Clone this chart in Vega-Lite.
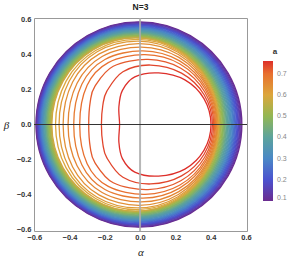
{
"$schema":"https://vega.github.io/schema/vega-lite/v6.json",
"autosize":"none",
"width":213,"height":213,
"padding":{"left":34,"top":18,"right":43,"bottom":31},
"config":{"view":{"stroke":"#999","strokeWidth":1},"font":"Liberation Sans"},
"title":{"text":"N=3","fontSize":8.5,"fontWeight":"bold","color":"#222","offset":4,"anchor":"middle","frame":"group","font":"Liberation Sans"},
"datasets":{
"c":[
{"a":0.1,"k":0,"x":0.577,"y":0},{"a":0.1,"k":30,"x":0.499,"y":0.294},{"a":0.1,"k":60,"x":0.285,"y":0.508},{"a":0.1,"k":90,"x":-0.007,"y":0.587},{"a":0.1,"k":120,"x":-0.298,"y":0.508},{"a":0.1,"k":150,"x":-0.512,"y":0.294},{"a":0.1,"k":180,"x":-0.59,"y":0},{"a":0.1,"k":210,"x":-0.512,"y":-0.294},{"a":0.1,"k":240,"x":-0.298,"y":-0.508},{"a":0.1,"k":270,"x":-0.007,"y":-0.587},{"a":0.1,"k":300,"x":0.285,"y":-0.508},{"a":0.1,"k":330,"x":0.499,"y":-0.294},
{"a":0.116,"k":0,"x":0.573,"y":0},{"a":0.116,"k":30,"x":0.495,"y":0.292},{"a":0.116,"k":60,"x":0.282,"y":0.506},{"a":0.116,"k":90,"x":-0.008,"y":0.584},{"a":0.116,"k":120,"x":-0.298,"y":0.506},{"a":0.116,"k":150,"x":-0.51,"y":0.292},{"a":0.116,"k":180,"x":-0.588,"y":0},{"a":0.116,"k":210,"x":-0.51,"y":-0.292},{"a":0.116,"k":240,"x":-0.298,"y":-0.506},{"a":0.116,"k":270,"x":-0.008,"y":-0.584},{"a":0.116,"k":300,"x":0.282,"y":-0.506},{"a":0.116,"k":330,"x":0.495,"y":-0.292},
{"a":0.132,"k":0,"x":0.568,"y":0},{"a":0.132,"k":30,"x":0.491,"y":0.29},{"a":0.132,"k":60,"x":0.28,"y":0.503},{"a":0.132,"k":90,"x":-0.009,"y":0.581},{"a":0.132,"k":120,"x":-0.297,"y":0.503},{"a":0.132,"k":150,"x":-0.508,"y":0.29},{"a":0.132,"k":180,"x":-0.585,"y":0},{"a":0.132,"k":210,"x":-0.508,"y":-0.29},{"a":0.132,"k":240,"x":-0.297,"y":-0.503},{"a":0.132,"k":270,"x":-0.009,"y":-0.581},{"a":0.132,"k":300,"x":0.28,"y":-0.503},{"a":0.132,"k":330,"x":0.491,"y":-0.29},
{"a":0.148,"k":0,"x":0.564,"y":0},{"a":0.148,"k":30,"x":0.487,"y":0.289},{"a":0.148,"k":60,"x":0.277,"y":0.5},{"a":0.148,"k":90,"x":-0.01,"y":0.577},{"a":0.148,"k":120,"x":-0.296,"y":0.5},{"a":0.148,"k":150,"x":-0.506,"y":0.289},{"a":0.148,"k":180,"x":-0.583,"y":0},{"a":0.148,"k":210,"x":-0.506,"y":-0.289},{"a":0.148,"k":240,"x":-0.296,"y":-0.5},{"a":0.148,"k":270,"x":-0.01,"y":-0.577},{"a":0.148,"k":300,"x":0.277,"y":-0.5},{"a":0.148,"k":330,"x":0.487,"y":-0.289},
{"a":0.164,"k":0,"x":0.559,"y":0},{"a":0.164,"k":30,"x":0.483,"y":0.287},{"a":0.164,"k":60,"x":0.274,"y":0.497},{"a":0.164,"k":90,"x":-0.01,"y":0.574},{"a":0.164,"k":120,"x":-0.295,"y":0.497},{"a":0.164,"k":150,"x":-0.504,"y":0.287},{"a":0.164,"k":180,"x":-0.58,"y":0},{"a":0.164,"k":210,"x":-0.504,"y":-0.287},{"a":0.164,"k":240,"x":-0.295,"y":-0.497},{"a":0.164,"k":270,"x":-0.01,"y":-0.574},{"a":0.164,"k":300,"x":0.274,"y":-0.497},{"a":0.164,"k":330,"x":0.483,"y":-0.287},
{"a":0.18,"k":0,"x":0.555,"y":0},{"a":0.18,"k":30,"x":0.479,"y":0.286},{"a":0.18,"k":60,"x":0.272,"y":0.494},{"a":0.18,"k":90,"x":-0.011,"y":0.571},{"a":0.18,"k":120,"x":-0.294,"y":0.494},{"a":0.18,"k":150,"x":-0.502,"y":0.286},{"a":0.18,"k":180,"x":-0.577,"y":0},{"a":0.18,"k":210,"x":-0.502,"y":-0.286},{"a":0.18,"k":240,"x":-0.294,"y":-0.494},{"a":0.18,"k":270,"x":-0.011,"y":-0.571},{"a":0.18,"k":300,"x":0.272,"y":-0.494},{"a":0.18,"k":330,"x":0.479,"y":-0.286},
{"a":0.196,"k":0,"x":0.55,"y":0},{"a":0.196,"k":30,"x":0.475,"y":0.284},{"a":0.196,"k":60,"x":0.269,"y":0.492},{"a":0.196,"k":90,"x":-0.012,"y":0.568},{"a":0.196,"k":120,"x":-0.293,"y":0.492},{"a":0.196,"k":150,"x":-0.499,"y":0.284},{"a":0.196,"k":180,"x":-0.575,"y":0},{"a":0.196,"k":210,"x":-0.499,"y":-0.284},{"a":0.196,"k":240,"x":-0.293,"y":-0.492},{"a":0.196,"k":270,"x":-0.012,"y":-0.568},{"a":0.196,"k":300,"x":0.269,"y":-0.492},{"a":0.196,"k":330,"x":0.475,"y":-0.284},
{"a":0.212,"k":0,"x":0.546,"y":0},{"a":0.212,"k":30,"x":0.471,"y":0.282},{"a":0.212,"k":60,"x":0.266,"y":0.489},{"a":0.212,"k":90,"x":-0.013,"y":0.565},{"a":0.212,"k":120,"x":-0.293,"y":0.489},{"a":0.212,"k":150,"x":-0.497,"y":0.282},{"a":0.212,"k":180,"x":-0.572,"y":0},{"a":0.212,"k":210,"x":-0.497,"y":-0.282},{"a":0.212,"k":240,"x":-0.293,"y":-0.489},{"a":0.212,"k":270,"x":-0.013,"y":-0.565},{"a":0.212,"k":300,"x":0.266,"y":-0.489},{"a":0.212,"k":330,"x":0.471,"y":-0.282},
{"a":0.228,"k":0,"x":0.541,"y":0},{"a":0.228,"k":30,"x":0.467,"y":0.281},{"a":0.228,"k":60,"x":0.264,"y":0.486},{"a":0.228,"k":90,"x":-0.014,"y":0.561},{"a":0.228,"k":120,"x":-0.292,"y":0.486},{"a":0.228,"k":150,"x":-0.495,"y":0.281},{"a":0.228,"k":180,"x":-0.569,"y":0},{"a":0.228,"k":210,"x":-0.495,"y":-0.281},{"a":0.228,"k":240,"x":-0.292,"y":-0.486},{"a":0.228,"k":270,"x":-0.014,"y":-0.561},{"a":0.228,"k":300,"x":0.264,"y":-0.486},{"a":0.228,"k":330,"x":0.467,"y":-0.281},
{"a":0.244,"k":0,"x":0.537,"y":0},{"a":0.244,"k":30,"x":0.463,"y":0.279},{"a":0.244,"k":60,"x":0.261,"y":0.483},{"a":0.244,"k":90,"x":-0.015,"y":0.558},{"a":0.244,"k":120,"x":-0.291,"y":0.483},{"a":0.244,"k":150,"x":-0.493,"y":0.279},{"a":0.244,"k":180,"x":-0.567,"y":0},{"a":0.244,"k":210,"x":-0.493,"y":-0.279},{"a":0.244,"k":240,"x":-0.291,"y":-0.483},{"a":0.244,"k":270,"x":-0.015,"y":-0.558},{"a":0.244,"k":300,"x":0.261,"y":-0.483},{"a":0.244,"k":330,"x":0.463,"y":-0.279},
{"a":0.26,"k":0,"x":0.532,"y":0},{"a":0.26,"k":30,"x":0.459,"y":0.278},{"a":0.26,"k":60,"x":0.258,"y":0.481},{"a":0.26,"k":90,"x":-0.016,"y":0.555},{"a":0.26,"k":120,"x":-0.29,"y":0.481},{"a":0.26,"k":150,"x":-0.49,"y":0.278},{"a":0.26,"k":180,"x":-0.564,"y":0},{"a":0.26,"k":210,"x":-0.49,"y":-0.278},{"a":0.26,"k":240,"x":-0.29,"y":-0.481},{"a":0.26,"k":270,"x":-0.016,"y":-0.555},{"a":0.26,"k":300,"x":0.258,"y":-0.481},{"a":0.26,"k":330,"x":0.459,"y":-0.278},
{"a":0.276,"k":0,"x":0.528,"y":0},{"a":0.276,"k":30,"x":0.455,"y":0.276},{"a":0.276,"k":60,"x":0.256,"y":0.478},{"a":0.276,"k":90,"x":-0.016,"y":0.552},{"a":0.276,"k":120,"x":-0.289,"y":0.478},{"a":0.276,"k":150,"x":-0.488,"y":0.276},{"a":0.276,"k":180,"x":-0.561,"y":0},{"a":0.276,"k":210,"x":-0.488,"y":-0.276},{"a":0.276,"k":240,"x":-0.289,"y":-0.478},{"a":0.276,"k":270,"x":-0.016,"y":-0.552},{"a":0.276,"k":300,"x":0.256,"y":-0.478},{"a":0.276,"k":330,"x":0.455,"y":-0.276},
{"a":0.292,"k":0,"x":0.524,"y":0},{"a":0.292,"k":30,"x":0.451,"y":0.274},{"a":0.292,"k":60,"x":0.253,"y":0.475},{"a":0.292,"k":90,"x":-0.017,"y":0.549},{"a":0.292,"k":120,"x":-0.287,"y":0.475},{"a":0.292,"k":150,"x":-0.485,"y":0.274},{"a":0.292,"k":180,"x":-0.558,"y":0},{"a":0.292,"k":210,"x":-0.485,"y":-0.274},{"a":0.292,"k":240,"x":-0.287,"y":-0.475},{"a":0.292,"k":270,"x":-0.017,"y":-0.549},{"a":0.292,"k":300,"x":0.253,"y":-0.475},{"a":0.292,"k":330,"x":0.451,"y":-0.274},
{"a":0.308,"k":0,"x":0.519,"y":0},{"a":0.308,"k":30,"x":0.447,"y":0.273},{"a":0.308,"k":60,"x":0.251,"y":0.472},{"a":0.308,"k":90,"x":-0.018,"y":0.545},{"a":0.308,"k":120,"x":-0.286,"y":0.472},{"a":0.308,"k":150,"x":-0.483,"y":0.273},{"a":0.308,"k":180,"x":-0.555,"y":0},{"a":0.308,"k":210,"x":-0.483,"y":-0.273},{"a":0.308,"k":240,"x":-0.286,"y":-0.472},{"a":0.308,"k":270,"x":-0.018,"y":-0.545},{"a":0.308,"k":300,"x":0.251,"y":-0.472},{"a":0.308,"k":330,"x":0.447,"y":-0.273},
{"a":0.324,"k":0,"x":0.515,"y":0},{"a":0.324,"k":30,"x":0.443,"y":0.271},{"a":0.324,"k":60,"x":0.248,"y":0.47},{"a":0.324,"k":90,"x":-0.019,"y":0.542},{"a":0.324,"k":120,"x":-0.285,"y":0.47},{"a":0.324,"k":150,"x":-0.48,"y":0.271},{"a":0.324,"k":180,"x":-0.552,"y":0},{"a":0.324,"k":210,"x":-0.48,"y":-0.271},{"a":0.324,"k":240,"x":-0.285,"y":-0.47},{"a":0.324,"k":270,"x":-0.019,"y":-0.542},{"a":0.324,"k":300,"x":0.248,"y":-0.47},{"a":0.324,"k":330,"x":0.443,"y":-0.271},
{"a":0.34,"k":0,"x":0.51,"y":0},{"a":0.34,"k":30,"x":0.439,"y":0.27},{"a":0.34,"k":60,"x":0.245,"y":0.467},{"a":0.34,"k":90,"x":-0.019,"y":0.539},{"a":0.34,"k":120,"x":-0.284,"y":0.467},{"a":0.34,"k":150,"x":-0.478,"y":0.27},{"a":0.34,"k":180,"x":-0.549,"y":0},{"a":0.34,"k":210,"x":-0.478,"y":-0.27},{"a":0.34,"k":240,"x":-0.284,"y":-0.467},{"a":0.34,"k":270,"x":-0.019,"y":-0.539},{"a":0.34,"k":300,"x":0.245,"y":-0.467},{"a":0.34,"k":330,"x":0.439,"y":-0.27},
{"a":0.356,"k":0,"x":0.506,"y":0},{"a":0.356,"k":30,"x":0.435,"y":0.268},{"a":0.356,"k":60,"x":0.243,"y":0.464},{"a":0.356,"k":90,"x":-0.02,"y":0.536},{"a":0.356,"k":120,"x":-0.283,"y":0.464},{"a":0.356,"k":150,"x":-0.475,"y":0.268},{"a":0.356,"k":180,"x":-0.546,"y":0},{"a":0.356,"k":210,"x":-0.475,"y":-0.268},{"a":0.356,"k":240,"x":-0.283,"y":-0.464},{"a":0.356,"k":270,"x":-0.02,"y":-0.536},{"a":0.356,"k":300,"x":0.243,"y":-0.464},{"a":0.356,"k":330,"x":0.435,"y":-0.268},
{"a":0.372,"k":0,"x":0.501,"y":0},{"a":0.372,"k":30,"x":0.431,"y":0.266},{"a":0.372,"k":60,"x":0.24,"y":0.461},{"a":0.372,"k":90,"x":-0.021,"y":0.533},{"a":0.372,"k":120,"x":-0.281,"y":0.461},{"a":0.372,"k":150,"x":-0.472,"y":0.266},{"a":0.372,"k":180,"x":-0.542,"y":0},{"a":0.372,"k":210,"x":-0.472,"y":-0.266},{"a":0.372,"k":240,"x":-0.281,"y":-0.461},{"a":0.372,"k":270,"x":-0.021,"y":-0.533},{"a":0.372,"k":300,"x":0.24,"y":-0.461},{"a":0.372,"k":330,"x":0.431,"y":-0.266},
{"a":0.388,"k":0,"x":0.497,"y":0},{"a":0.388,"k":30,"x":0.427,"y":0.265},{"a":0.388,"k":60,"x":0.238,"y":0.458},{"a":0.388,"k":90,"x":-0.021,"y":0.529},{"a":0.388,"k":120,"x":-0.28,"y":0.458},{"a":0.388,"k":150,"x":-0.47,"y":0.265},{"a":0.388,"k":180,"x":-0.539,"y":0},{"a":0.388,"k":210,"x":-0.47,"y":-0.265},{"a":0.388,"k":240,"x":-0.28,"y":-0.458},{"a":0.388,"k":270,"x":-0.021,"y":-0.529},{"a":0.388,"k":300,"x":0.238,"y":-0.458},{"a":0.388,"k":330,"x":0.427,"y":-0.265},
{"a":0.404,"k":0,"x":0.492,"y":0},{"a":0.404,"k":30,"x":0.423,"y":0.263},{"a":0.404,"k":60,"x":0.235,"y":0.456},{"a":0.404,"k":90,"x":-0.022,"y":0.526},{"a":0.404,"k":120,"x":-0.279,"y":0.456},{"a":0.404,"k":150,"x":-0.467,"y":0.263},{"a":0.404,"k":180,"x":-0.536,"y":0},{"a":0.404,"k":210,"x":-0.467,"y":-0.263},{"a":0.404,"k":240,"x":-0.279,"y":-0.456},{"a":0.404,"k":270,"x":-0.022,"y":-0.526},{"a":0.404,"k":300,"x":0.235,"y":-0.456},{"a":0.404,"k":330,"x":0.423,"y":-0.263},
{"a":0.42,"k":0,"x":0.488,"y":0},{"a":0.42,"k":30,"x":0.419,"y":0.262},{"a":0.42,"k":60,"x":0.233,"y":0.453},{"a":0.42,"k":90,"x":-0.022,"y":0.523},{"a":0.42,"k":120,"x":-0.277,"y":0.453},{"a":0.42,"k":150,"x":-0.464,"y":0.262},{"a":0.42,"k":180,"x":-0.532,"y":0},{"a":0.42,"k":210,"x":-0.464,"y":-0.262},{"a":0.42,"k":240,"x":-0.277,"y":-0.453},{"a":0.42,"k":270,"x":-0.022,"y":-0.523},{"a":0.42,"k":300,"x":0.233,"y":-0.453},{"a":0.42,"k":330,"x":0.419,"y":-0.262},
{"a":0.436,"k":0,"x":0.483,"y":0},{"a":0.436,"k":30,"x":0.415,"y":0.26},{"a":0.436,"k":60,"x":0.23,"y":0.45},{"a":0.436,"k":90,"x":-0.023,"y":0.52},{"a":0.436,"k":120,"x":-0.276,"y":0.45},{"a":0.436,"k":150,"x":-0.461,"y":0.26},{"a":0.436,"k":180,"x":-0.529,"y":0},{"a":0.436,"k":210,"x":-0.461,"y":-0.26},{"a":0.436,"k":240,"x":-0.276,"y":-0.45},{"a":0.436,"k":270,"x":-0.023,"y":-0.52},{"a":0.436,"k":300,"x":0.23,"y":-0.45},{"a":0.436,"k":330,"x":0.415,"y":-0.26},
{"a":0.452,"k":0,"x":0.479,"y":0},{"a":0.452,"k":30,"x":0.412,"y":0.258},{"a":0.452,"k":60,"x":0.228,"y":0.447},{"a":0.452,"k":90,"x":-0.023,"y":0.517},{"a":0.452,"k":120,"x":-0.274,"y":0.447},{"a":0.452,"k":150,"x":-0.458,"y":0.258},{"a":0.452,"k":180,"x":-0.526,"y":0},{"a":0.452,"k":210,"x":-0.458,"y":-0.258},{"a":0.452,"k":240,"x":-0.274,"y":-0.447},{"a":0.452,"k":270,"x":-0.023,"y":-0.517},{"a":0.452,"k":300,"x":0.228,"y":-0.447},{"a":0.452,"k":330,"x":0.412,"y":-0.258},
{"a":0.468,"k":0,"x":0.474,"y":0},{"a":0.468,"k":30,"x":0.408,"y":0.257},{"a":0.468,"k":60,"x":0.225,"y":0.445},{"a":0.468,"k":90,"x":-0.024,"y":0.513},{"a":0.468,"k":120,"x":-0.273,"y":0.445},{"a":0.468,"k":150,"x":-0.455,"y":0.257},{"a":0.468,"k":180,"x":-0.522,"y":0},{"a":0.468,"k":210,"x":-0.455,"y":-0.257},{"a":0.468,"k":240,"x":-0.273,"y":-0.445},{"a":0.468,"k":270,"x":-0.024,"y":-0.513},{"a":0.468,"k":300,"x":0.225,"y":-0.445},{"a":0.468,"k":330,"x":0.408,"y":-0.257},
{"a":0.484,"k":0,"x":0.47,"y":0},{"a":0.484,"k":30,"x":0.404,"y":0.255},{"a":0.484,"k":60,"x":0.223,"y":0.442},{"a":0.484,"k":90,"x":-0.024,"y":0.51},{"a":0.484,"k":120,"x":-0.271,"y":0.442},{"a":0.484,"k":150,"x":-0.452,"y":0.255},{"a":0.484,"k":180,"x":-0.519,"y":0},{"a":0.484,"k":210,"x":-0.452,"y":-0.255},{"a":0.484,"k":240,"x":-0.271,"y":-0.442},{"a":0.484,"k":270,"x":-0.024,"y":-0.51},{"a":0.484,"k":300,"x":0.223,"y":-0.442},{"a":0.484,"k":330,"x":0.404,"y":-0.255},
{"a":0.5,"k":0,"x":0.466,"y":0},{"a":0.5,"k":30,"x":0.4,"y":0.254},{"a":0.5,"k":60,"x":0.22,"y":0.439},{"a":0.5,"k":90,"x":-0.025,"y":0.507},{"a":0.5,"k":120,"x":-0.27,"y":0.439},{"a":0.5,"k":150,"x":-0.449,"y":0.254},{"a":0.5,"k":180,"x":-0.515,"y":0},{"a":0.5,"k":210,"x":-0.449,"y":-0.254},{"a":0.5,"k":240,"x":-0.27,"y":-0.439},{"a":0.5,"k":270,"x":-0.025,"y":-0.507},{"a":0.5,"k":300,"x":0.22,"y":-0.439},{"a":0.5,"k":330,"x":0.4,"y":-0.254},
{"a":0.516,"k":0,"x":0.461,"y":0},{"a":0.516,"k":30,"x":0.396,"y":0.252},{"a":0.516,"k":60,"x":0.218,"y":0.436},{"a":0.516,"k":90,"x":-0.025,"y":0.504},{"a":0.516,"k":120,"x":-0.268,"y":0.436},{"a":0.516,"k":150,"x":-0.446,"y":0.252},{"a":0.516,"k":180,"x":-0.511,"y":0},{"a":0.516,"k":210,"x":-0.446,"y":-0.252},{"a":0.516,"k":240,"x":-0.268,"y":-0.436},{"a":0.516,"k":270,"x":-0.025,"y":-0.504},{"a":0.516,"k":300,"x":0.218,"y":-0.436},{"a":0.516,"k":330,"x":0.396,"y":-0.252},
{"a":0.532,"k":0,"x":0.457,"y":0},{"a":0.532,"k":30,"x":0.392,"y":0.25},{"a":0.532,"k":60,"x":0.216,"y":0.434},{"a":0.532,"k":90,"x":-0.026,"y":0.501},{"a":0.532,"k":120,"x":-0.267,"y":0.434},{"a":0.532,"k":150,"x":-0.443,"y":0.25},{"a":0.532,"k":180,"x":-0.508,"y":0},{"a":0.532,"k":210,"x":-0.443,"y":-0.25},{"a":0.532,"k":240,"x":-0.267,"y":-0.434},{"a":0.532,"k":270,"x":-0.026,"y":-0.501},{"a":0.532,"k":300,"x":0.216,"y":-0.434},{"a":0.532,"k":330,"x":0.392,"y":-0.25},
{"a":0.548,"k":0,"x":0.452,"y":0},{"a":0.548,"k":30,"x":0.388,"y":0.249},{"a":0.548,"k":60,"x":0.213,"y":0.431},{"a":0.548,"k":90,"x":-0.026,"y":0.497},{"a":0.548,"k":120,"x":-0.265,"y":0.431},{"a":0.548,"k":150,"x":-0.44,"y":0.249},{"a":0.548,"k":180,"x":-0.504,"y":0},{"a":0.548,"k":210,"x":-0.44,"y":-0.249},{"a":0.548,"k":240,"x":-0.265,"y":-0.431},{"a":0.548,"k":270,"x":-0.026,"y":-0.497},{"a":0.548,"k":300,"x":0.213,"y":-0.431},{"a":0.548,"k":330,"x":0.388,"y":-0.249},
{"a":0.58,"k":0,"x":0.449,"y":0},{"a":0.58,"k":30,"x":0.386,"y":0.248},{"a":0.58,"k":60,"x":0.213,"y":0.429},{"a":0.58,"k":90,"x":-0.024,"y":0.495},{"a":0.58,"k":120,"x":-0.262,"y":0.429},{"a":0.58,"k":150,"x":-0.436,"y":0.248},{"a":0.58,"k":180,"x":-0.5,"y":0},{"a":0.58,"k":210,"x":-0.436,"y":-0.248},{"a":0.58,"k":240,"x":-0.262,"y":-0.429},{"a":0.58,"k":270,"x":-0.024,"y":-0.495},{"a":0.58,"k":300,"x":0.213,"y":-0.429},{"a":0.58,"k":330,"x":0.386,"y":-0.248},
{"a":0.6,"k":0,"x":0.445,"y":0},{"a":0.6,"k":30,"x":0.383,"y":0.244},{"a":0.6,"k":60,"x":0.214,"y":0.422},{"a":0.6,"k":90,"x":-0.018,"y":0.487},{"a":0.6,"k":120,"x":-0.252,"y":0.423},{"a":0.6,"k":150,"x":-0.419,"y":0.248},{"a":0.6,"k":180,"x":-0.479,"y":0},{"a":0.6,"k":210,"x":-0.419,"y":-0.248},{"a":0.6,"k":240,"x":-0.252,"y":-0.423},{"a":0.6,"k":270,"x":-0.018,"y":-0.487},{"a":0.6,"k":300,"x":0.214,"y":-0.422},{"a":0.6,"k":330,"x":0.383,"y":-0.244},
{"a":0.62,"k":0,"x":0.441,"y":0},{"a":0.62,"k":30,"x":0.38,"y":0.239},{"a":0.62,"k":60,"x":0.215,"y":0.413},{"a":0.62,"k":90,"x":-0.012,"y":0.477},{"a":0.62,"k":120,"x":-0.243,"y":0.416},{"a":0.62,"k":150,"x":-0.402,"y":0.247},{"a":0.62,"k":180,"x":-0.459,"y":0},{"a":0.62,"k":210,"x":-0.402,"y":-0.247},{"a":0.62,"k":240,"x":-0.243,"y":-0.416},{"a":0.62,"k":270,"x":-0.012,"y":-0.477},{"a":0.62,"k":300,"x":0.215,"y":-0.413},{"a":0.62,"k":330,"x":0.38,"y":-0.239},
{"a":0.64,"k":0,"x":0.437,"y":0},{"a":0.64,"k":30,"x":0.378,"y":0.231},{"a":0.64,"k":60,"x":0.217,"y":0.4},{"a":0.64,"k":90,"x":-0.004,"y":0.462},{"a":0.64,"k":120,"x":-0.231,"y":0.404},{"a":0.64,"k":150,"x":-0.382,"y":0.243},{"a":0.64,"k":180,"x":-0.436,"y":0},{"a":0.64,"k":210,"x":-0.382,"y":-0.243},{"a":0.64,"k":240,"x":-0.231,"y":-0.404},{"a":0.64,"k":270,"x":-0.004,"y":-0.462},{"a":0.64,"k":300,"x":0.217,"y":-0.4},{"a":0.64,"k":330,"x":0.378,"y":-0.231},
{"a":0.66,"k":0,"x":0.433,"y":0},{"a":0.66,"k":30,"x":0.376,"y":0.222},{"a":0.66,"k":60,"x":0.22,"y":0.384},{"a":0.66,"k":90,"x":0.006,"y":0.443},{"a":0.66,"k":120,"x":-0.215,"y":0.389},{"a":0.66,"k":150,"x":-0.357,"y":0.236},{"a":0.66,"k":180,"x":-0.408,"y":0},{"a":0.66,"k":210,"x":-0.357,"y":-0.236},{"a":0.66,"k":240,"x":-0.215,"y":-0.389},{"a":0.66,"k":270,"x":0.006,"y":-0.443},{"a":0.66,"k":300,"x":0.22,"y":-0.384},{"a":0.66,"k":330,"x":0.376,"y":-0.222},
{"a":0.68,"k":0,"x":0.428,"y":0},{"a":0.68,"k":30,"x":0.373,"y":0.211},{"a":0.68,"k":60,"x":0.222,"y":0.365},{"a":0.68,"k":90,"x":0.016,"y":0.421},{"a":0.68,"k":120,"x":-0.199,"y":0.372},{"a":0.68,"k":150,"x":-0.33,"y":0.23},{"a":0.68,"k":180,"x":-0.376,"y":0},{"a":0.68,"k":210,"x":-0.33,"y":-0.23},{"a":0.68,"k":240,"x":-0.199,"y":-0.372},{"a":0.68,"k":270,"x":0.016,"y":-0.421},{"a":0.68,"k":300,"x":0.222,"y":-0.365},{"a":0.68,"k":330,"x":0.373,"y":-0.211},
{"a":0.7,"k":0,"x":0.423,"y":0},{"a":0.7,"k":30,"x":0.37,"y":0.2},{"a":0.7,"k":60,"x":0.226,"y":0.346},{"a":0.7,"k":90,"x":0.028,"y":0.399},{"a":0.7,"k":120,"x":-0.18,"y":0.354},{"a":0.7,"k":150,"x":-0.3,"y":0.224},{"a":0.7,"k":180,"x":-0.342,"y":0},{"a":0.7,"k":210,"x":-0.3,"y":-0.224},{"a":0.7,"k":240,"x":-0.18,"y":-0.354},{"a":0.7,"k":270,"x":0.028,"y":-0.399},{"a":0.7,"k":300,"x":0.226,"y":-0.346},{"a":0.7,"k":330,"x":0.37,"y":-0.2},
{"a":0.72,"k":0,"x":0.417,"y":0},{"a":0.72,"k":30,"x":0.367,"y":0.186},{"a":0.72,"k":60,"x":0.231,"y":0.322},{"a":0.72,"k":90,"x":0.045,"y":0.372},{"a":0.72,"k":120,"x":-0.152,"y":0.333},{"a":0.72,"k":150,"x":-0.256,"y":0.218},{"a":0.72,"k":165,"x":-0.282,"y":0.132},{"a":0.72,"k":180,"x":-0.291,"y":0},{"a":0.72,"k":195,"x":-0.282,"y":-0.132},{"a":0.72,"k":210,"x":-0.256,"y":-0.218},{"a":0.72,"k":240,"x":-0.152,"y":-0.333},{"a":0.72,"k":270,"x":0.045,"y":-0.372},{"a":0.72,"k":300,"x":0.231,"y":-0.322},{"a":0.72,"k":330,"x":0.367,"y":-0.186},
{"a":0.74,"k":0,"x":0.41,"y":0},{"a":0.74,"k":30,"x":0.363,"y":0.17},{"a":0.74,"k":60,"x":0.235,"y":0.294},{"a":0.74,"k":90,"x":0.06,"y":0.34},{"a":0.74,"k":120,"x":-0.097,"y":0.302},{"a":0.74,"k":150,"x":-0.188,"y":0.191},{"a":0.74,"k":165,"x":-0.211,"y":0.11},{"a":0.74,"k":180,"x":-0.219,"y":0},{"a":0.74,"k":195,"x":-0.211,"y":-0.11},{"a":0.74,"k":210,"x":-0.188,"y":-0.191},{"a":0.74,"k":240,"x":-0.097,"y":-0.302},{"a":0.74,"k":270,"x":0.06,"y":-0.34},{"a":0.74,"k":300,"x":0.235,"y":-0.294},{"a":0.74,"k":330,"x":0.363,"y":-0.17},
{"a":0.76,"k":0,"x":0.402,"y":0},{"a":0.76,"k":30,"x":0.362,"y":0.148},{"a":0.76,"k":60,"x":0.254,"y":0.255},{"a":0.76,"k":90,"x":0.105,"y":0.295},{"a":0.76,"k":120,"x":-0.03,"y":0.272},{"a":0.76,"k":150,"x":-0.1,"y":0.195},{"a":0.76,"k":165,"x":-0.12,"y":0.1},{"a":0.76,"k":180,"x":-0.116,"y":0},{"a":0.76,"k":195,"x":-0.12,"y":-0.1},{"a":0.76,"k":210,"x":-0.1,"y":-0.195},{"a":0.76,"k":240,"x":-0.03,"y":-0.272},{"a":0.76,"k":270,"x":0.105,"y":-0.295},{"a":0.76,"k":300,"x":0.254,"y":-0.255},{"a":0.76,"k":330,"x":0.362,"y":-0.148}
],
"z":[{"v":0}]
},
"layer":[
{
"data":{"name":"c"},
"mark":{"type":"line","interpolate":"cardinal-closed","strokeWidth":1.3},
"encoding":{
"x":{"field":"x","type":"quantitative","scale":{"domain":[-0.601,0.606],"nice":false,"zero":false},
"axis":{"orient":"bottom","values":[-0.6,-0.55,-0.5,-0.45,-0.4,-0.35,-0.3,-0.25,-0.2,-0.15,-0.1,-0.05,0,0.05,0.1,0.15,0.2,0.25,0.3,0.35,0.4,0.45,0.5,0.55,0.6],
"labelExpr":"abs(datum.value*5-round(datum.value*5))<0.001 ? format(datum.value,'.1f') : ''",
"labelFlush":false,"labelOverlap":false,"labelBound":false,"labelFontSize":7.5,"labelFontWeight":"bold","labelColor":"#333","labelPadding":2,
"tickSize":0,"tickColor":"#888","domain":false,"grid":false,
"encode":{"ticks":{"update":{"y2":{"signal":"abs(datum.value*5-round(datum.value*5))<0.001 ? -4 : -2"}}}},
"title":"α","titleFont":"Liberation Serif","titleFontStyle":"italic","titleFontWeight":"normal","titleFontSize":11,"titleColor":"#222","titleY":21,"titleBaseline":"middle"}},
"y":{"field":"y","type":"quantitative","scale":{"domain":[-0.609,0.609],"nice":false,"zero":false},
"axis":{"orient":"left","values":[-0.6,-0.55,-0.5,-0.45,-0.4,-0.35,-0.3,-0.25,-0.2,-0.15,-0.1,-0.05,0,0.05,0.1,0.15,0.2,0.25,0.3,0.35,0.4,0.45,0.5,0.55,0.6],
"labelExpr":"abs(datum.value*5-round(datum.value*5))<0.001 ? format(datum.value,'.1f') : ''",
"labelFlush":false,"labelOverlap":false,"labelBound":false,"labelFontSize":7.5,"labelFontWeight":"bold","labelColor":"#333","labelPadding":3,
"tickSize":0,"tickColor":"#888","domain":false,"grid":false,
"encode":{"ticks":{"update":{"x2":{"signal":"abs(datum.value*5-round(datum.value*5))<0.001 ? 4 : 2"}}}},
"title":"β","titleFont":"Liberation Serif","titleFontStyle":"italic","titleFontWeight":"normal","titleFontSize":11,"titleColor":"#222","titleAngle":0,"titleX":-28,"titleY":107,"titleAlign":"center","titleBaseline":"middle"}},
"color":{"field":"a","type":"quantitative",
"scale":{"domain":[0.1,0.2,0.3,0.4,0.5,0.6,0.7,0.76],"range":["#6b2c8f","#4b52cf","#4a88c6","#5ca39c","#93b753","#dca63c","#e8702f","#dd2f2a"],"interpolate":"rgb"},
"legend":{"orient":"none","legendX":229,"legendY":30,"direction":"vertical","title":"a","titleFontSize":8,"titleFontWeight":"bold","titleColor":"#333","titlePadding":5,"titleAnchor":"middle","gradientLength":140,"gradientThickness":10,"gradientStrokeWidth":0,"values":[0.1,0.2,0.3,0.4,0.5,0.6,0.7],"format":".1f","labelFontSize":7,"labelColor":"#888","labelOffset":4}},
"detail":{"field":"a","type":"nominal"},
"order":{"field":"k","type":"quantitative"}
}
},
{
"data":{"name":"z"},
"mark":{"type":"rule","color":"#aaa","strokeWidth":2,"opacity":0.85},
"encoding":{
"x":{"field":"v","type":"quantitative","scale":{"domain":[-0.601,0.606],"nice":false,"zero":false},
"axis":{"orient":"top","values":[-0.6,-0.55,-0.5,-0.45,-0.4,-0.35,-0.3,-0.25,-0.2,-0.15,-0.1,-0.05,0,0.05,0.1,0.15,0.2,0.25,0.3,0.35,0.4,0.45,0.5,0.55,0.6],"labels":false,"tickSize":0,"tickColor":"#888","domain":false,"grid":false,"title":null,
"encode":{"ticks":{"update":{"y2":{"signal":"abs(datum.value*5-round(datum.value*5))<0.001 ? 4 : 2"}}}}}}
}
},
{
"data":{"name":"z"},
"mark":{"type":"rule","color":"#333","strokeWidth":1},
"encoding":{
"y":{"field":"v","type":"quantitative","scale":{"domain":[-0.609,0.609],"nice":false,"zero":false},
"axis":{"orient":"right","values":[-0.6,-0.55,-0.5,-0.45,-0.4,-0.35,-0.3,-0.25,-0.2,-0.15,-0.1,-0.05,0,0.05,0.1,0.15,0.2,0.25,0.3,0.35,0.4,0.45,0.5,0.55,0.6],"labels":false,"tickSize":0,"tickColor":"#888","domain":false,"grid":false,"title":null,
"encode":{"ticks":{"update":{"x2":{"signal":"abs(datum.value*5-round(datum.value*5))<0.001 ? -4 : -2"}}}}}}
}
}
],
"resolve":{"axis":{"x":"independent","y":"independent"}}
}
